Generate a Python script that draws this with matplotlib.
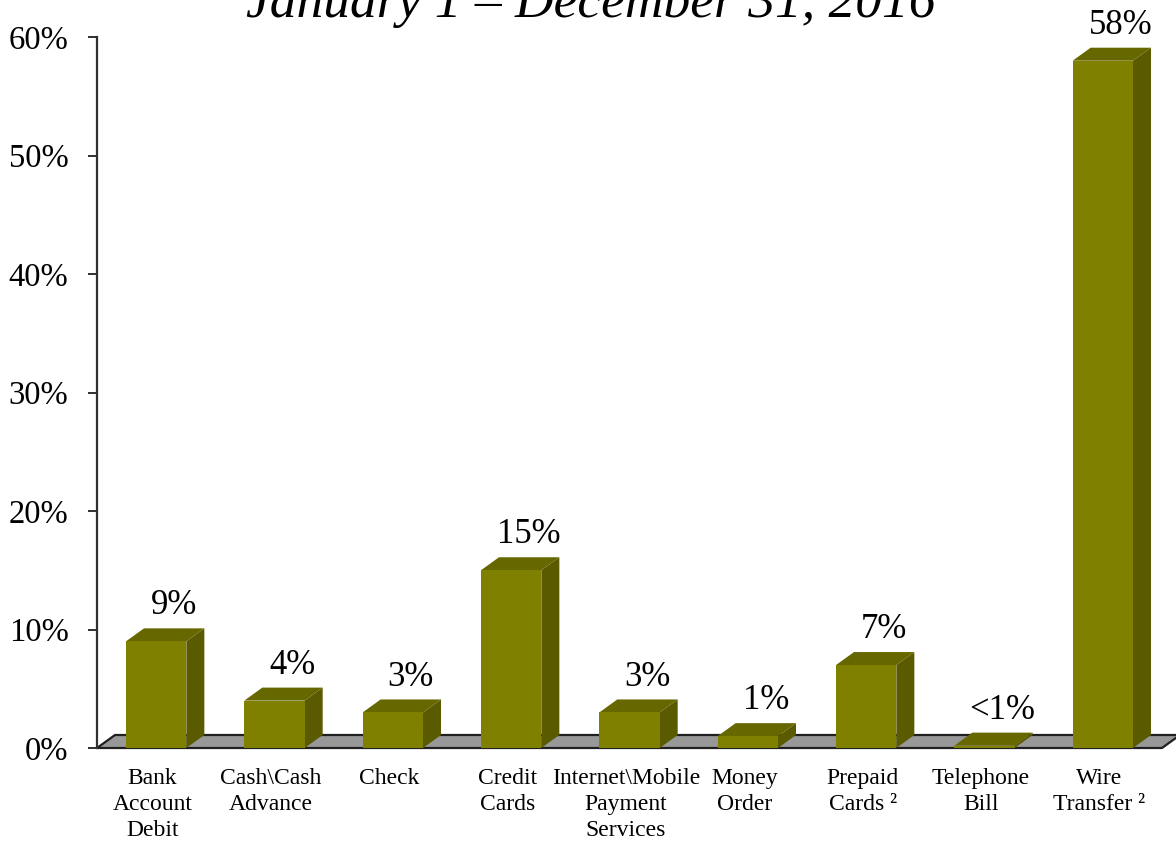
import matplotlib
matplotlib.use("Agg")
import matplotlib.pyplot as plt
import matplotlib.transforms as mtransforms
from matplotlib.patches import Polygon, Rectangle

# Share of reported losses by payment method
categories = ["Bank\nAccount\nDebit", "Cash\\Cash\nAdvance", "Check", "Credit\nCards",
              "Internet\\Mobile\nPayment\nServices", "Money\nOrder", "Prepaid\nCards \u00b2",
              "Telephone\nBill", "Wire\nTransfer \u00b2"]
values = [9, 4, 3, 15, 3, 1, 7, 0.2, 58]
value_labels = ["9%", "4%", "3%", "15%", "3%", "1%", "7%", "<1%", "58%"]
y_ticks = [0, 10, 20, 30, 40, 50, 60]
y_tick_labels = ["0%", "10%", "20%", "30%", "40%", "50%", "60%"]
title = "January 1 \u2013 December 31, 2016"

plt.rcParams["font.family"] = ["Liberation Serif", "DejaVu Serif"]

W, H = 1176, 843
fig = plt.figure(figsize=(W / 100, H / 100), dpi=100)
ax = fig.add_axes([97 / W, 1 - 748 / H, 1065 / W, (748 - 37) / H])

n = len(categories)
ax.set_xlim(0, n)
ax.set_ylim(0, 60)

# depth of the pseudo-3D extrusion, in data units
dx = 18 / 118.33
dy = 13 / 11.85

front_c = "#808000"
top_c = "#676700"
side_c = "#5a5a00"

# floor
floor = Polygon([(0, 0), (n, 0), (n + dx, dy), (dx, dy)], closed=True,
                facecolor="#989898", edgecolor="#202020", lw=1.6, clip_on=False, zorder=1)
ax.add_patch(floor)

bw = 0.51
for i, (v, lab) in enumerate(zip(values, value_labels)):
    c = i + 0.5
    x0, x1 = c - bw / 2, c + bw / 2
    ax.add_patch(Polygon([(x1, 0), (x1 + dx, dy), (x1 + dx, v + dy), (x1, v)],
                         closed=True, facecolor=side_c, edgecolor="none",
                         clip_on=False, zorder=2))
    ax.add_patch(Polygon([(x0, v), (x0 + dx, v + dy), (x1 + dx, v + dy), (x1, v)],
                         closed=True, facecolor=top_c, edgecolor="none",
                         clip_on=False, zorder=2))
    ax.add_patch(Rectangle((x0, 0), bw, v, facecolor=front_c, edgecolor="none",
                           clip_on=False, zorder=3))
    ax.annotate(lab, xy=(c + dx, v + dy), xytext=(0, 10), textcoords="offset points",
                ha="center", va="baseline", fontsize=25, annotation_clip=False, zorder=5)

# axis styling
for s in ["top", "right", "bottom"]:
    ax.spines[s].set_visible(False)
ax.spines["left"].set_color("#303030")
ax.spines["left"].set_linewidth(1.6)
ax.set_yticks(y_ticks)
ax.set_yticklabels(y_tick_labels, fontsize=23.5)
ax.tick_params(axis="y", direction="out", length=6.5, width=1.4, color="#303030", pad=14)
ax.set_xticks([])
ax.patch.set_alpha(0)

# category labels under the floor
off = mtransforms.ScaledTranslation(0, -20 / 100, fig.dpi_scale_trans)
for i, cat in enumerate(categories):
    ax.text(i + 0.47, 0, cat, transform=ax.get_xaxis_transform() + off,
            ha="center", va="top", fontsize=17, linespacing=1.3)

fig.text(591 / W, 1 - 17 / H, title, ha="center", va="baseline", fontsize=38.5,
         fontstyle="italic")

fig.savefig("out.png", dpi=100)
